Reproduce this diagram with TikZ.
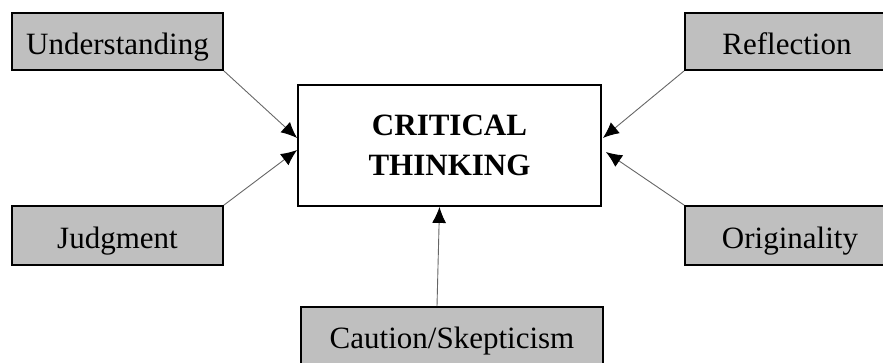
\documentclass[tikz,border=0pt]{standalone}
\usepackage{fontspec}
\setmainfont{Liberation Serif}
\usetikzlibrary{arrows.meta}
\begin{document}
\begin{tikzpicture}[x=1pt,y=-1pt,
  side/.style={draw=black,line width=1.8pt,fill=gray!50!white!100,rectangle,inner sep=0pt,text height=26pt,text depth=0pt,font=\fontsize{31}{38}\selectfont},
  core/.style={draw=black,line width=1.8pt,fill=white,rectangle,inner sep=0pt,align=center,font=\bfseries\fontsize{31}{40}\selectfont},
  link/.style={draw=gray!80!black,line width=0.9pt,-{Latex[black,length=16pt,width=14pt]}}]
\useasboundingbox (0,0) rectangle (883,362);
\begin{scope}
\clip (0,0) rectangle (883,362);
\node[side,minimum width=211pt,minimum height=57pt] (U) at (117.5,41.5) {Understanding};
\node[side,minimum width=211pt,minimum height=59pt] (J) at (117.5,235.5) {Judgment};
\node[side,minimum width=204pt,minimum height=57pt] (R) at (787,41.5) {Reflection};
\node[side,minimum width=210pt,minimum height=59pt] (O) at (790,235.5) {Originality};
\node[core,minimum width=303pt,minimum height=121pt] (C) at (449.5,145.5) {CRITICAL\\THINKING};
\node[side,minimum width=302pt,minimum height=57pt] (K) at (452,335.5) {Caution/Skepticism};
\end{scope}
\draw[link] (U.south east) -- ([yshift=7.5pt]C.west);
\draw[link] (J.north east) -- ([yshift=-4.5pt]C.west);
\draw[link] (R.south west) -- ([xshift=1pt,yshift=7.5pt]C.east);
\draw[link] (O.north west) -- ([xshift=4pt,yshift=-6.5pt]C.east);
\draw[link] ([xshift=-15pt]K.north) -- ([xshift=-10pt]C.south);
\end{tikzpicture}
\end{document}
